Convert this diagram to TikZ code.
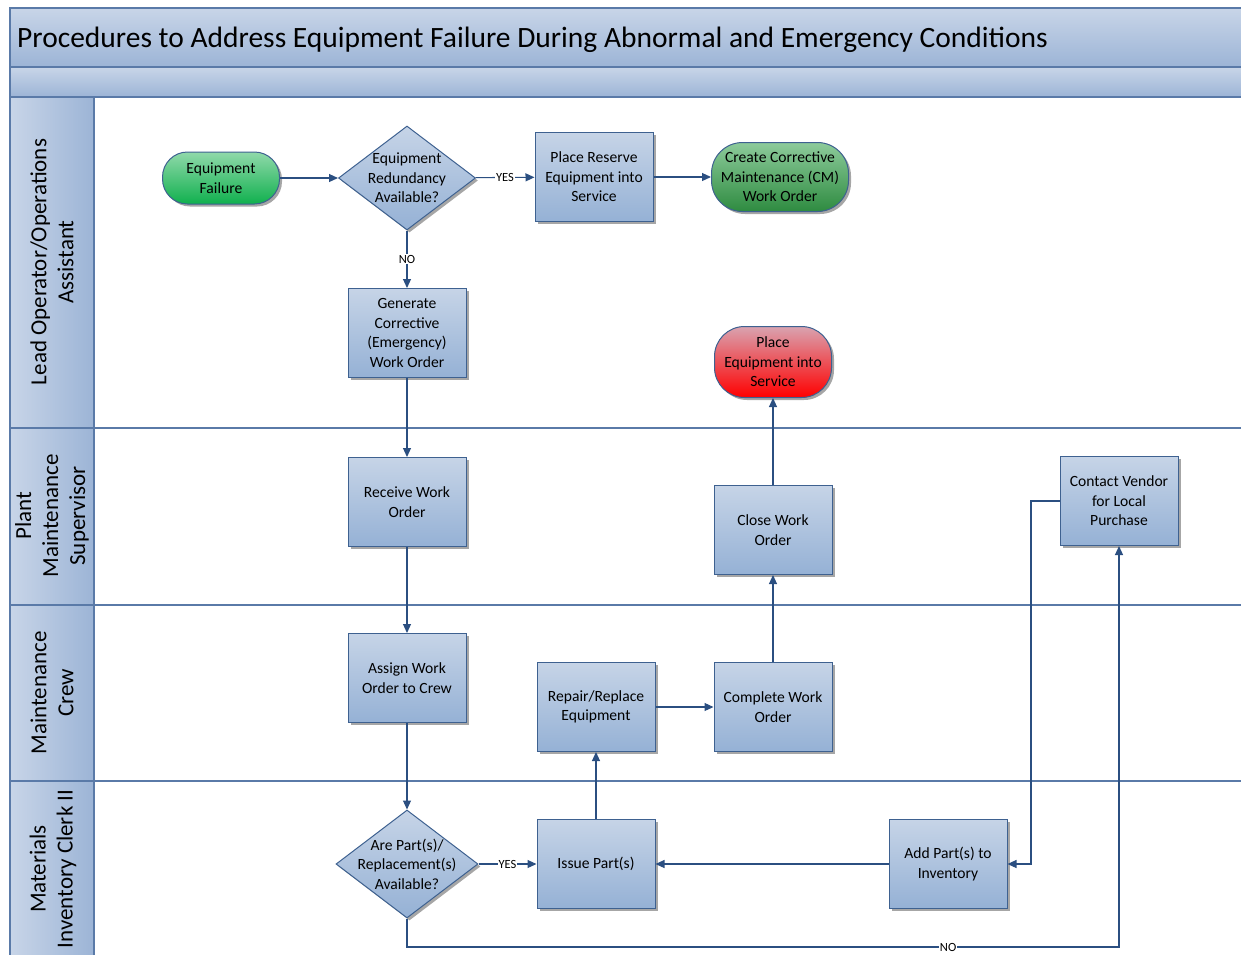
\documentclass[tikz,border=0pt]{standalone}
\usepackage{fontspec}
\setmainfont{Carlito}
\usetikzlibrary{arrows.meta,shapes.geometric,shadows}
\definecolor{lineblue}{HTML}{2B4F81}
\definecolor{boxtop}{HTML}{C6D4E7}
\definecolor{boxbot}{HTML}{95B1D5}
\definecolor{boxedge}{HTML}{3E6190}
\definecolor{laneedge}{HTML}{5A7AA8}
\definecolor{hdrlight}{HTML}{C8D5E8}
\definecolor{hdrdark}{HTML}{9CB4D6}
\definecolor{gtop}{HTML}{90D9AA}
\definecolor{gbot}{HTML}{10B04E}
\definecolor{dgtop}{HTML}{8DCB9B}
\definecolor{dgbot}{HTML}{2E8B40}
\definecolor{rtop}{HTML}{D9A3B0}
\definecolor{rbot}{HTML}{FF0000}
\newcommand\boxtxt{\fontsize{15.6}{19.5}\selectfont}
\newcommand\lanetxt{\fontsize{23}{27}\selectfont}
\tikzset{
  shad/.style={drop shadow={shadow xshift=2.5pt,shadow yshift=-2.5pt,fill=black!50,opacity=.7}},
  procbox/.style={rectangle, draw=boxedge, line width=1pt, top color=boxtop, bottom color=boxbot,
    minimum width=118pt, minimum height=89pt, inner sep=0pt, align=center, font=\boxtxt, shad},
  decbox/.style={diamond, draw=boxedge, line width=1pt, top color=boxtop, bottom color=boxbot,
    inner sep=0pt, shad},
  term/.style={rectangle, rounded corners=#1, draw=boxedge, line width=1pt,
    inner sep=0pt, align=center, font=\boxtxt, shad},
  conn/.style={draw=lineblue, line width=1.1pt, -{Triangle[length=9pt,width=8pt]}},
  lbl/.style={font=\fontsize{12.5}{13}\selectfont, fill=white, inner sep=1pt, text=black},
  lane/.style={draw=laneedge, line width=1.2pt},
  lanelabel/.style={rotate=90, align=center, font=\lanetxt},
}
\begin{document}
\begin{tikzpicture}[x=1pt,y=-1pt]
\useasboundingbox (0,0) rectangle (1241,954);
\clip (0,0) rectangle (1241,954);
% title bands
\shade[top color=hdrlight, bottom color=hdrdark, draw=laneedge, line width=1.2pt] (10,8) rectangle (1260,67);
\shade[top color=hdrlight, bottom color=hdrdark, draw=laneedge, line width=1.2pt] (10,67) rectangle (1260,97);
\node[anchor=west, font=\fontsize{29.5}{32}\selectfont, inner sep=0pt] (title) at (17,40)
  {Procedures to Address Equipment Failure During Abnormal and Emergency Conditions};
% lane headers
\shade[left color=hdrlight, right color=hdrdark, draw=laneedge, line width=1.2pt] (10,97) rectangle (94,428);
\shade[left color=hdrlight, right color=hdrdark, draw=laneedge, line width=1.2pt] (10,428) rectangle (94,605);
\shade[left color=hdrlight, right color=hdrdark, draw=laneedge, line width=1.2pt] (10,605) rectangle (94,781);
\shade[left color=hdrlight, right color=hdrdark, draw=laneedge, line width=1.2pt] (10,781) rectangle (94,970);
\draw[lane] (94,428) -- (1260,428);
\draw[lane] (94,605) -- (1260,605);
\draw[lane] (94,781) -- (1260,781);
\node[lanelabel] (l1) at (52,262) {Lead Operator/Operations\\Assistant};
\node[lanelabel] (l2) at (52,516) {Plant\\Maintenance\\Supervisor};
\node[lanelabel] (l3) at (52,693) {Maintenance\\Crew};
\node[lanelabel] (l4) at (53,869) {Materials\\Inventory Clerk II};
% nodes
\node[term=25pt, top color=gtop, bottom color=gbot, minimum width=117pt, minimum height=52pt] (ef) at (221,178) {Equipment\\Failure};
\node[decbox, minimum width=137pt, minimum height=104pt,
  label={[font=\boxtxt, align=center]center:Equipment\\Redundancy\\Available?}] (d1) at (407,178) {};
\node[procbox] (pr) at (594,177) {Place Reserve\\Equipment into\\Service};
\node[term=31pt, top color=dgtop, bottom color=dgbot, minimum width=137pt, minimum height=69pt] (cm) at (780,177) {Create Corrective\\Maintenance (CM)\\Work Order};
\node[procbox] (gen) at (407,333) {Generate\\Corrective\\(Emergency)\\Work Order};
\node[term=30pt, top color=rtop, bottom color=rbot, minimum width=117pt, minimum height=71pt] (pes) at (773,362) {Place\\Equipment into\\Service};
\node[procbox] (rcv) at (407,502) {Receive Work\\Order};
\node[procbox] (cls) at (773,530) {Close Work\\Order};
\node[procbox] (cv) at (1119,501) {Contact Vendor\\for Local\\Purchase};
\node[procbox] (asg) at (407,678) {Assign Work\\Order to Crew};
\node[procbox] (rep) at (596,707) {Repair/Replace\\Equipment};
\node[procbox] (cmp) at (773,707) {Complete Work\\Order};
\node[decbox, minimum width=142pt, minimum height=108pt,
  label={[font=\boxtxt, align=center]center:Are Part(s)/\\Replacement(s)\\Available?}] (d2) at (407,864) {};
\node[procbox] (iss) at (596,864) {Issue Part(s)};
\node[procbox] (add) at (948,864) {Add Part(s) to\\Inventory};
% connectors
\draw[conn] (ef) -- (d1);
\draw[conn] (d1) -- node[lbl] {YES} (pr);
\draw[conn] (pr) -- (cm);
\draw[conn] (d1) -- node[lbl] {NO} (gen);
\draw[conn] (gen) -- (rcv);
\draw[conn] (rcv) -- (asg);
\draw[conn] (asg) -- (d2);
\draw[conn] (d2) -- node[lbl] {YES} (iss);
\draw[conn] (iss) -- (rep);
\draw[conn] (rep) -- (cmp);
\draw[conn] (cmp) -- (cls);
\draw[conn] (cls) -- (pes);
\coordinate (nocorner) at (1119,947);
\draw[conn] (d2.south) |- node[lbl, pos=0.88] {NO} (nocorner) -- (cv.south);
\coordinate (cvturn) at (1031,501);
\draw[conn] (cv.west) -- (cvturn) |- (add.east);
\draw[conn] (add) -- (iss);
\end{tikzpicture}
\end{document}
